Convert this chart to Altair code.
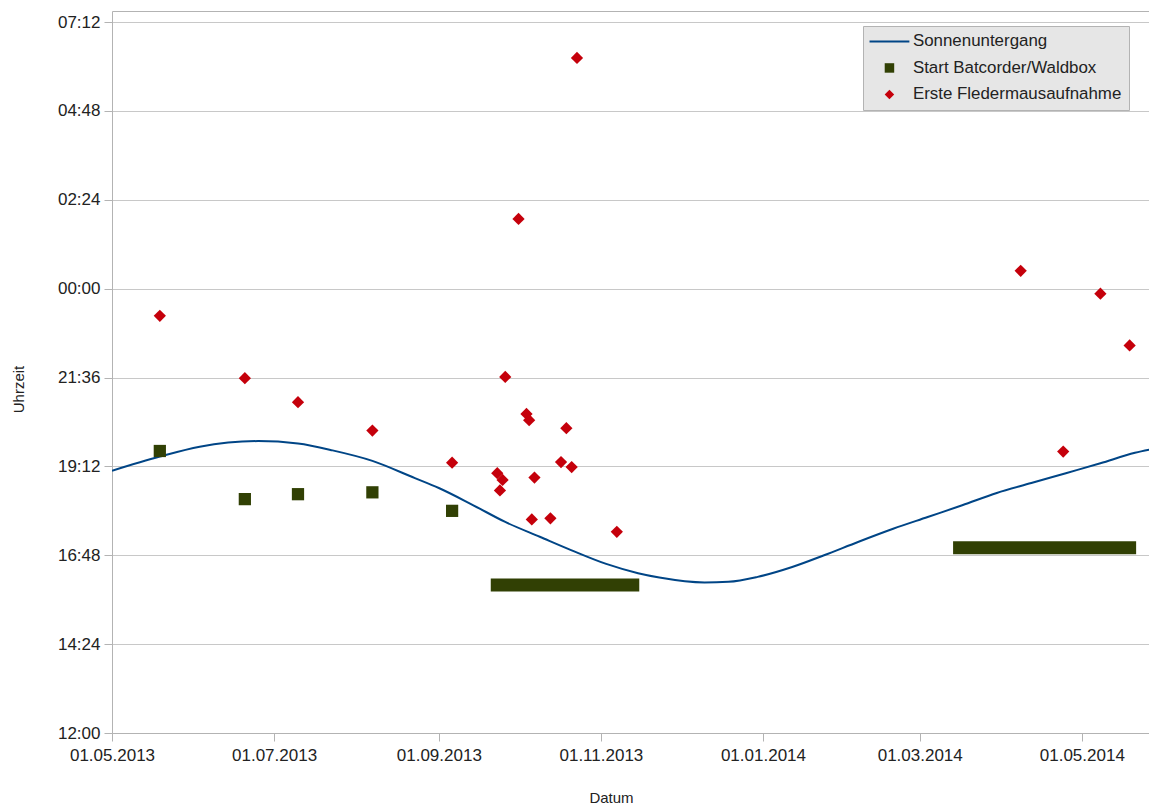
import altair as alt
import pandas as pd

# ---- data ----
series_names = ["Sonnenuntergang", "Start Batcorder/Waldbox", "Erste Fledermausaufnahme"]

sunset_dates = ["2013-05-01", "2013-05-19", "2013-06-03", "2013-06-25", "2013-07-10", "2013-07-23",
                "2013-08-07", "2013-08-23", "2013-09-01", "2013-09-14", "2013-09-26", "2013-10-09",
                "2013-10-21", "2013-11-03", "2013-11-15", "2013-11-23", "2013-12-10", "2013-12-19",
                "2013-12-30", "2014-01-12", "2014-01-24", "2014-02-06", "2014-02-19", "2014-03-04",
                "2014-03-17", "2014-03-30", "2014-04-12", "2014-04-25", "2014-05-08", "2014-05-21",
                "2014-05-30"]
sunset_times = ["19:05", "19:28", "19:44", "19:53", "19:49", "19:38",
                "19:21", "18:53", "18:37", "18:09", "17:42", "17:18",
                "16:56", "16:34", "16:19", "16:12", "16:04", "16:05",
                "16:13", "16:29", "16:48", "17:10", "17:31", "17:50",
                "18:09", "18:29", "18:45", "19:01", "19:17", "19:34",
                "19:42"]

start_dates = ["2013-05-19", "2013-06-20", "2013-07-10", "2013-08-07", "2013-09-06"]
start_times = ["19:37", "18:19", "18:27", "18:30", "18:00"]

# daily Waldbox starts (drawn as a continuous run of squares)
run_first = ["2013-09-23", "2014-03-16"]
run_last = ["2013-11-13", "2014-05-19"]
run_times = ["16:00", "17:00"]

bat_dates = ["2013-05-19", "2013-06-20", "2013-07-10", "2013-08-07", "2013-09-06", "2013-09-23",
             "2013-09-25", "2013-09-24", "2013-09-26", "2013-10-01", "2013-10-04", "2013-10-05",
             "2013-10-07", "2013-10-06", "2013-10-13", "2013-10-17", "2013-10-19", "2013-10-21",
             "2013-10-23", "2013-11-07", "2014-04-08", "2014-04-24", "2014-05-08", "2014-05-19"]
bat_times = ["23:16", "21:35", "20:56", "20:10", "19:18", "19:01",
             "18:50", "18:33", "21:37", "01:53", "20:37", "20:27",
             "18:54", "17:46", "17:48", "19:19", "20:14", "19:11",
             "06:14", "17:26", "00:29", "19:36", "23:52", "22:28"]

y_tick_hours = [12, 14.4, 16.8, 19.2, 21.6, 24, 26.4, 28.8, 31.2]
x_tick_dates = [(2013, 5), (2013, 7), (2013, 9), (2013, 11), (2014, 1), (2014, 3), (2014, 5)]


def to_hours(t):
    hh, mm = t.split(":")
    h = int(hh) + int(mm) / 60.0
    return h + 24 if h < 12 else h


sun_df = pd.DataFrame({"date": pd.to_datetime(sunset_dates),
                       "h": [to_hours(t) for t in sunset_times]})
pts_df = pd.DataFrame({
    "date": pd.to_datetime(start_dates + bat_dates),
    "h": [to_hours(t) for t in start_times + bat_times],
    "series": [series_names[1]] * len(start_dates) + [series_names[2]] * len(bat_dates),
})
run_df = pd.DataFrame({"d1": pd.to_datetime(run_first), "d2": pd.to_datetime(run_last),
                       "h": [to_hours(t) for t in run_times]})

FONT = "Liberation Sans"
AX = "#b3b3b3"
BLUE, GREEN, RED = "#004586", "#314004", "#c5000b"

x_scale = alt.Scale(domain=[alt.DateTime(year=2013, month=5, date=1),
                            alt.DateTime(year=2014, month=5, date=26, hours=7)])
y_scale = alt.Scale(domain=[12, 31.5], nice=False, zero=False)

y_enc = alt.Y("h:Q", scale=y_scale, axis=alt.Axis(
    values=y_tick_hours,
    labelExpr="pad(floor(datum.value) % 24, 2, '0', 'left') + ':' + pad(round((datum.value % 1) * 60), 2, '0', 'left')",
    tickSize=8, tickColor=AX, domainColor=AX, labelPadding=4,
    grid=True, gridColor="#c8c8c8", labelFont=FONT, labelFontSize=17, labelColor="#222",
    title="Uhrzeit", titleFont=FONT, titleFontSize=15, titleFontWeight="normal", titleColor="#222",
    titleX=-94, titleY=378, titleBaseline="middle", labelOverlap=False))

x_bottom = alt.X("date:T", scale=x_scale, axis=alt.Axis(
    values=[alt.DateTime(year=y, month=m, date=1) for y, m in x_tick_dates],
    format="%d.%m.%Y", tickSize=8, tickColor=AX, domainColor=AX, labelPadding=6,
    grid=False, labelFlush=False, labelOverlap=False,
    labelFont=FONT, labelFontSize=17, labelColor="#222",
    title="Datum", titleFont=FONT, titleFontSize=15, titleFontWeight="normal", titleColor="#222",
    titleX=499, titleY=64, titleBaseline="middle"))

x_top = alt.X("date:T", scale=x_scale, axis=alt.Axis(
    orient="top", labels=False, ticks=False, grid=False, title=None, domainColor=AX))

line = alt.Chart(sun_df).mark_line(color=BLUE, strokeWidth=2, interpolate="monotone", clip=True).encode(
    x=x_bottom, y=y_enc)

runs = alt.Chart(run_df).mark_rule(color=GREEN, strokeWidth=13, strokeCap="square", clip=True).encode(
    x=alt.X("d1:T", scale=x_scale, axis=None), x2="d2:T", y=alt.Y("h:Q", scale=y_scale))

line_shape = "M-4.2,-0.21L4.2,-0.21L4.2,0.21L-4.2,0.21Z"

legend_kw = dict(title=None, orient="none", legendX=751, legendY=15,
                 fillColor="#e6e6e6", strokeColor=AX, padding=7,
                 symbolSize=90, symbolStrokeWidth=0, symbolOffset=11,
                 labelOffset=15, rowPadding=8.5, labelLimit=0,
                 labelFont=FONT, labelFontSize=16.9, labelColor="#222")

points = alt.Chart(pts_df).mark_point(filled=True, opacity=1, size=150, clip=True).encode(
    x=x_top,
    y=alt.Y("h:Q", scale=y_scale),
    color=alt.Color("series:N", scale=alt.Scale(domain=series_names, range=[BLUE, GREEN, RED]),
                    legend=alt.Legend(**legend_kw)),
    shape=alt.Shape("series:N", scale=alt.Scale(domain=series_names,
                                                range=[line_shape, "square", "diamond"]),
                    legend=alt.Legend(**legend_kw)),
)

chart = alt.layer(line, runs, points).resolve_axis(x="independent").properties(
    width=1037, height=722,
    padding={"left": 104, "top": 3, "right": 0, "bottom": 76},
    autosize=alt.AutoSizeParams(type="none"),
    background="white",
).configure_view(stroke=None)

chart.save("out.html", embed_options={"renderer": "svg", "actions": False})
